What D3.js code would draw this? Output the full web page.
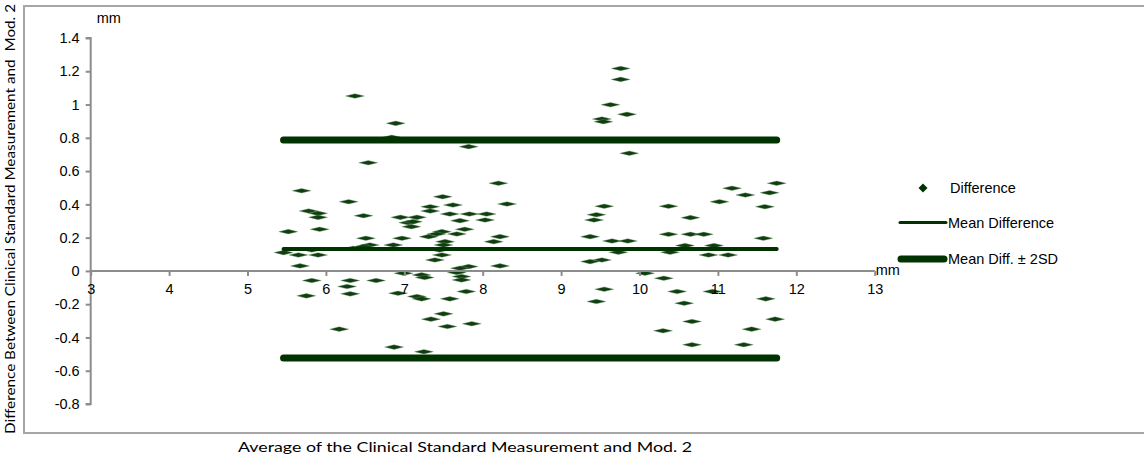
<!DOCTYPE html>
<html>
<head>
<meta charset="utf-8">
<script src="https://cdn.jsdelivr.net/npm/d3@7"></script>
<style>
  html, body { margin: 0; padding: 0; background: #fff; }
  svg { display: block; }
</style>
</head>
<body>
<svg id="chart" width="1144" height="457"></svg>
<script>
// ---- data ----
const avgValues = [
  9.76, 9.76, 9.63, 9.84, 9.52, 9.54, 6.37, 6.89, 6.84, 7.20,
  7.82, 9.87, 6.54, 11.18, 11.75, 11.35, 11.66, 11.02, 11.60, 9.55,
  10.37, 9.45, 9.42, 10.65, 9.37, 10.37, 10.65, 10.82, 9.65, 9.85,
  11.58, 10.58, 10.95, 9.73, 10.39, 10.88, 11.13, 9.52, 9.37, 10.07,
  10.31, 9.55, 9.45, 10.48, 10.93, 10.57, 11.61, 10.67, 11.73, 10.30,
  11.43, 10.67, 11.33, 5.67, 7.82, 8.22, 6.99, 7.22, 7.26, 7.67,
  7.73, 7.73, 5.82, 6.31, 6.64, 6.27, 6.31, 5.75, 6.92, 7.16,
  7.22, 7.58, 7.79, 7.50, 7.34, 6.17, 7.55, 7.86, 6.87, 7.25,
  5.69, 6.29, 5.78, 5.90, 5.90, 6.48, 6.95, 7.16, 7.05, 7.09,
  5.92, 5.52, 6.51, 6.97, 6.56, 6.35, 6.86, 5.46, 5.82, 5.65,
  5.90, 8.20, 7.49, 7.33, 7.62, 8.31, 7.33, 7.58, 7.83, 8.05,
  7.11, 7.71, 8.03, 7.77, 7.48, 7.41, 7.67, 7.31, 8.22, 8.14,
  7.52, 7.50, 7.45, 7.48, 7.39, 7.71, 6.48
];
const diffValues = [
  1.217, 1.151, 0.999, 0.941, 0.913, 0.897, 1.051, 0.887, 0.803, 0.787,
  0.747, 0.707, 0.650, 0.497, 0.527, 0.456, 0.470, 0.416, 0.386, 0.389,
  0.389, 0.338, 0.306, 0.320, 0.206, 0.220, 0.220, 0.220, 0.180, 0.180,
  0.196, 0.152, 0.152, 0.112, 0.112, 0.096, 0.096, 0.066, 0.056, -0.014,
  -0.044, -0.110, -0.184, -0.124, -0.124, -0.194, -0.168, -0.304, -0.290, -0.360,
  -0.350, -0.444, -0.444, 0.030, 0.026, 0.030, -0.014, -0.024, -0.040, -0.010,
  -0.034, -0.054, -0.058, -0.058, -0.058, -0.094, -0.138, -0.150, -0.134, -0.154,
  -0.168, -0.168, -0.124, -0.258, -0.290, -0.350, -0.334, -0.318, -0.458, -0.486,
  0.482, 0.416, 0.360, 0.346, 0.322, 0.332, 0.322, 0.322, 0.290, 0.266,
  0.250, 0.236, 0.196, 0.196, 0.156, 0.136, 0.156, 0.110, 0.126, 0.096,
  0.096, 0.527, 0.446, 0.386, 0.396, 0.402, 0.360, 0.342, 0.342, 0.342,
  0.296, 0.302, 0.306, 0.250, 0.236, 0.222, 0.222, 0.206, 0.206, 0.176,
  0.176, 0.156, 0.126, 0.096, 0.066, 0.016, 0.146
];
const meanDifference = 0.132;
const upperLimit = 0.787;   // mean + 2SD
const lowerLimit = -0.523;  // mean - 2SD

const xTickValues = [3, 4, 5, 6, 7, 8, 9, 10, 11, 12, 13];
const xTickLabels = ["3", "4", "5", "6", "7", "8", "9", "10", "11", "12", "13"];
const yTickValues = [-0.8, -0.6, -0.4, -0.2, 0, 0.2, 0.4, 0.6, 0.8, 1, 1.2, 1.4];
const yTickLabels = ["-0.8", "-0.6", "-0.4", "-0.2", "0", "0.2", "0.4", "0.6", "0.8", "1", "1.2", "1.4"];

const legendLabels = ["Difference", "Mean Difference", "Mean Diff. \u00B1 2SD"];
const yTitle = "Difference Between Clinical Standard Measurement and  Mod. 2";
const xTitle = "Average of the Clinical Standard Measurement and Mod. 2";
const unitLabel = "mm";

// ---- drawing ----
const svg = d3.select("#chart");
const green = "#003300";
const axisGrey = "#8c8c8c";
const tickFont = "'Liberation Sans', Arial, sans-serif";
const titleFont = "Lato, 'Open Sans', sans-serif";

const x = d3.scaleLinear().domain([3, 13]).range([90.7, 874.7]);
const y = d3.scaleLinear().domain([-0.8, 1.4]).range([404, 38]);

// outer frame
svg.append("rect")
  .attr("x", 24).attr("y", 6).attr("width", 1140).attr("height", 427)
  .attr("fill", "none").attr("stroke", "#a6a6a6").attr("stroke-width", 2);

// points (drawn first, lines drawn over them)
const pts = avgValues.map((v, i) => ({ a: v, d: diffValues[i] }));
const diamond = "M-9.5,0L0,-2.3L9.5,0L0,2.3Z";
svg.append("g").selectAll("path").data(pts).join("path")
  .attr("d", diamond)
  .attr("transform", p => `translate(${x(p.a)},${y(p.d)})`)
  .attr("fill", "#0f3f0f")
  .attr("stroke", "#7f9f7f").attr("stroke-width", 0.8).attr("stroke-opacity", 0.45);

// reference lines spanning the measured averages
const ext = d3.extent(avgValues);
const lineGen = d3.line().x(p => x(p[0])).y(p => y(p[1]));
svg.append("path")
  .attr("d", lineGen([[ext[0], upperLimit], [ext[1], upperLimit]]))
  .attr("stroke", green).attr("stroke-width", 7).attr("stroke-linecap", "round").attr("fill", "none");
svg.append("path")
  .attr("d", lineGen([[ext[0], lowerLimit], [ext[1], lowerLimit]]))
  .attr("stroke", green).attr("stroke-width", 7).attr("stroke-linecap", "round").attr("fill", "none");
svg.append("path")
  .attr("d", lineGen([[ext[0], meanDifference], [ext[1], meanDifference]]))
  .attr("stroke", green).attr("stroke-width", 4).attr("stroke-linecap", "round").attr("fill", "none");

// y axis
const yAxis = d3.axisLeft(y).tickValues(yTickValues)
  .tickFormat((d, i) => yTickLabels[i]).tickSize(5).tickPadding(6);
const gy = svg.append("g").attr("transform", `translate(${x(3)},0)`).call(yAxis);
gy.select(".domain").attr("stroke", axisGrey).attr("stroke-width", 2).attr("d", `M-5,${y(1.4)}H0V${y(-0.8)}H-5`);
gy.selectAll(".tick line").attr("stroke", axisGrey).attr("stroke-width", 2);
gy.selectAll(".tick text").attr("font-family", tickFont).attr("font-size", 14.5).attr("fill", "#000");

// x axis at y=0
const xAxis = d3.axisBottom(x).tickValues(xTickValues)
  .tickFormat((d, i) => xTickLabels[i]).tickSize(5).tickPadding(8);
const gx = svg.append("g").attr("transform", `translate(0,${y(0)})`).call(xAxis);
gx.select(".domain").attr("stroke", axisGrey).attr("stroke-width", 2).attr("d", `M${x(3)},0H${x(13)}`);
gx.selectAll(".tick line").attr("stroke", axisGrey).attr("stroke-width", 2);
gx.selectAll(".tick text").attr("font-family", tickFont).attr("font-size", 14.5).attr("fill", "#000");

// unit labels
svg.append("text").attr("x", x(3) + 6).attr("y", 23)
  .attr("font-family", tickFont).attr("font-size", 14.5).text(unitLabel);
svg.append("text").attr("x", x(13) + 1).attr("y", y(0) + 4)
  .attr("font-family", tickFont).attr("font-size", 14.5).text(unitLabel);

// axis titles
svg.append("text")
  .attr("transform", "translate(15,219) rotate(-90)")
  .attr("text-anchor", "middle")
  .attr("font-family", titleFont).attr("font-size", 13.5)
  .attr("textLength", 430).attr("lengthAdjust", "spacingAndGlyphs")
  .attr("xml:space", "preserve")
  .text(yTitle);
svg.append("text")
  .attr("x", 465).attr("y", 452)
  .attr("text-anchor", "middle")
  .attr("font-family", titleFont).attr("font-size", 14)
  .attr("textLength", 454).attr("lengthAdjust", "spacingAndGlyphs")
  .text(xTitle);

// legend
const lg = svg.append("g");
lg.append("path").attr("d", "M0,-4.5L4.5,0L0,4.5L-4.5,0Z")
  .attr("transform", "translate(923,188)").attr("fill", green);
lg.append("line").attr("x1", 900).attr("x2", 946).attr("y1", 222.5).attr("y2", 222.5)
  .attr("stroke", green).attr("stroke-width", 3).attr("stroke-linecap", "round");
lg.append("line").attr("x1", 901).attr("x2", 944).attr("y1", 259).attr("y2", 259)
  .attr("stroke", green).attr("stroke-width", 7).attr("stroke-linecap", "round");
const legendY = [188, 222.5, 259];
lg.selectAll("text.lab").data(legendLabels).join("text")
  .attr("class", "lab")
  .attr("x", (d, i) => i === 0 ? 950 : 948)
  .attr("y", (d, i) => legendY[i])
  .attr("dy", "0.35em")
  .attr("font-family", tickFont).attr("font-size", 14.5).attr("fill", "#000")
  .text(d => d);
</script>
</body>
</html>
